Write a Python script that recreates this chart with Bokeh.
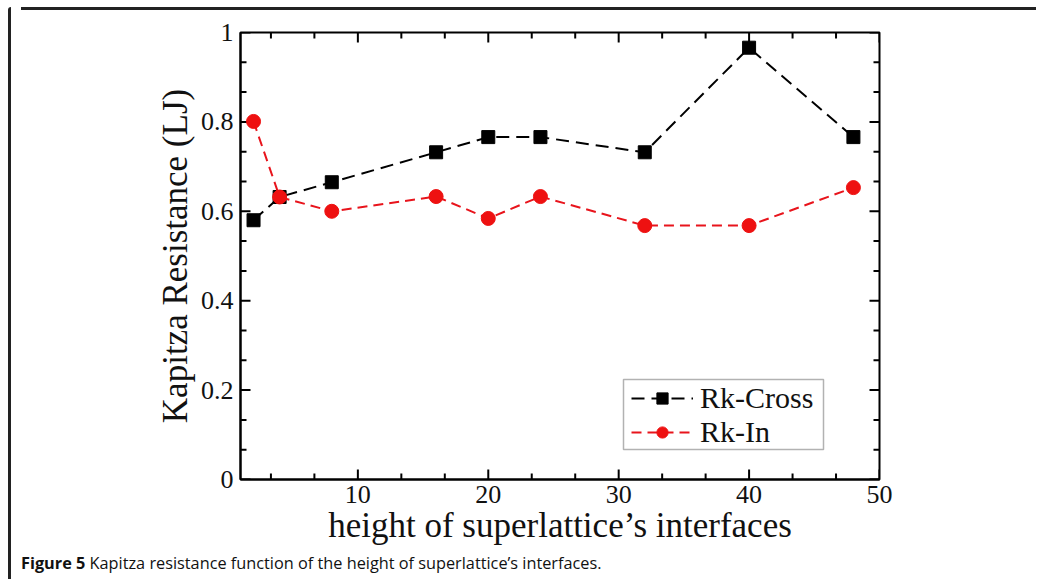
from bokeh.plotting import figure
from bokeh.models import (Range1d, FixedTicker, LinearAxis, Legend, LegendItem, Div,
                          BoxAnnotation)
from bokeh.layouts import column, row
from bokeh.embed import file_html
from bokeh.resources import INLINE

# ---- data ----
heights = [2, 4, 8, 16, 20, 24, 32, 40, 48]
rk_cross = [0.580, 0.632, 0.665, 0.732, 0.766, 0.766, 0.732, 0.966, 0.766]
rk_in = [0.801, 0.632, 0.600, 0.633, 0.584, 0.633, 0.568, 0.568, 0.653]
x_major = [10, 20, 30, 40, 50]
x_minor = [10 / 3 * k for k in range(1, 15) if k % 3 != 0]
y_major = [0, 0.2, 0.4, 0.6, 0.8, 1.0]
y_minor = [0.2 / 3 * k for k in range(1, 15) if k % 3 != 0]
series_names = ["Rk-Cross", "Rk-In"]
x_title = "height of superlattice\u2019s interfaces"
y_title = "Kapitza Resistance (LJ)"
caption_bold = "Figure 5"
caption_rest = "Kapitza resistance function of the height of superlattice\u2019s interfaces."

SERIF = "Liberation Serif"
X0, X1, Y0, Y1 = 1, 50, 0, 1

p = figure(width=1015, height=532, output_backend="svg", toolbar_location=None,
           x_range=Range1d(X0, X1), y_range=Range1d(Y0, Y1),
           min_border_left=224, min_border_right=152, min_border_top=17,
           min_border_bottom=68, x_axis_location=None, y_axis_location=None)
p.grid.visible = False
p.outline_line_color = "black"
p.outline_line_width = 2
p.background_fill_color = "white"
p.border_fill_color = "white"

xt = FixedTicker(ticks=x_major, minor_ticks=x_minor)
yt = FixedTicker(ticks=y_major, minor_ticks=y_minor)


def style(ax):
    ax.axis_line_color = "black"
    ax.axis_line_width = 2
    ax.major_tick_in = 0
    ax.major_tick_out = 0
    ax.minor_tick_in = 0
    ax.minor_tick_out = 0
    ax.major_label_text_font = SERIF
    ax.major_label_text_font_size = "26px"
    ax.major_label_text_color = "#111111"
    ax.axis_label_text_font = SERIF
    ax.axis_label_text_font_size = "35px"
    ax.axis_label_text_font_style = "normal"
    ax.axis_label_text_color = "#111111"


xb = LinearAxis(ticker=xt, axis_label=x_title, major_label_standoff=6,
                axis_label_standoff=0)
yl = LinearAxis(ticker=yt, axis_label=y_title, major_label_standoff=7,
                axis_label_standoff=3)
for ax in (xb, yl):
    style(ax)
p.add_layout(xb, "below")
p.add_layout(yl, "left")

# inward ticks on all four sides, drawn from the tick lists
tick_kw = dict(line_color="black", line_width=2, length_units="screen",
               angle_units="deg")
p.ray(x=x_major, y=[Y0] * len(x_major), length=10, angle=90, **tick_kw)
p.ray(x=x_minor, y=[Y0] * len(x_minor), length=6, angle=90, **tick_kw)
p.ray(x=x_major, y=[Y1] * len(x_major), length=10, angle=-90, **tick_kw)
p.ray(x=x_minor, y=[Y1] * len(x_minor), length=6, angle=-90, **tick_kw)
p.ray(x=[X0] * len(y_major), y=y_major, length=10, angle=0, **tick_kw)
p.ray(x=[X0] * len(y_minor), y=y_minor, length=6, angle=0, **tick_kw)
p.ray(x=[X1] * len(y_major), y=y_major, length=10, angle=180, **tick_kw)
p.ray(x=[X1] * len(y_minor), y=y_minor, length=6, angle=180, **tick_kw)

l1 = p.line(heights, rk_cross, line_color="black", line_width=2, line_dash="13 7")
s1 = p.scatter(heights, rk_cross, marker="square", size=13, fill_color="black",
               line_color="black")
l2 = p.line(heights, rk_in, line_color="#e8141c", line_width=2, line_dash="10 6")
s2 = p.scatter(heights, rk_in, marker="circle", size=14, fill_color="#ee1111",
               line_color="#ee1111")

# legend frame (screen units, relative to the plot frame)
legend_box = BoxAnnotation(left=383, right=583, bottom=30, top=100,
                           left_units="screen", right_units="screen",
                           top_units="screen", bottom_units="screen",
                           fill_color="white", fill_alpha=1,
                           line_color="black", line_width=1.5)
p.add_layout(legend_box)

leg_kw = dict(label_text_font=SERIF, label_text_font_size="30px",
              label_text_color="#111111", glyph_width=62, glyph_height=28,
              label_height=28, label_standoff=7, spacing=0, padding=0, margin=0,
              border_line_color=None, background_fill_alpha=0)
leg_a = Legend(items=[LegendItem(label=series_names[0], renderers=[l1, s1])],
               location=(391, 64), **leg_kw)
leg_b = Legend(items=[LegendItem(label=series_names[1], renderers=[l2, s2])],
               location=(391, 30), **leg_kw)
p.add_layout(leg_a, "center")
p.add_layout(leg_b, "center")

cap = Div(text=f"<b>{caption_bold}</b> {caption_rest}", width=1000, height=24,
          styles={"font-family": "Open Sans", "font-size": "16.3px",
                  "color": "#111111", "white-space": "nowrap"})

# page frame: a dark rule on the left and on top
left_rule = Div(width=3, height=572, styles={"background-color": "#222222",
                                              "border-top-left-radius": "3px"})
top_rule = Div(width=1015, height=3, styles={"background-color": "#222222"})

layout = row(left_rule, column(top_rule, p, cap, spacing=0), spacing=0,
             styles={"margin-left": "3px", "margin-top": "2px"})

open("out.html", "w").write(file_html(layout, INLINE))
